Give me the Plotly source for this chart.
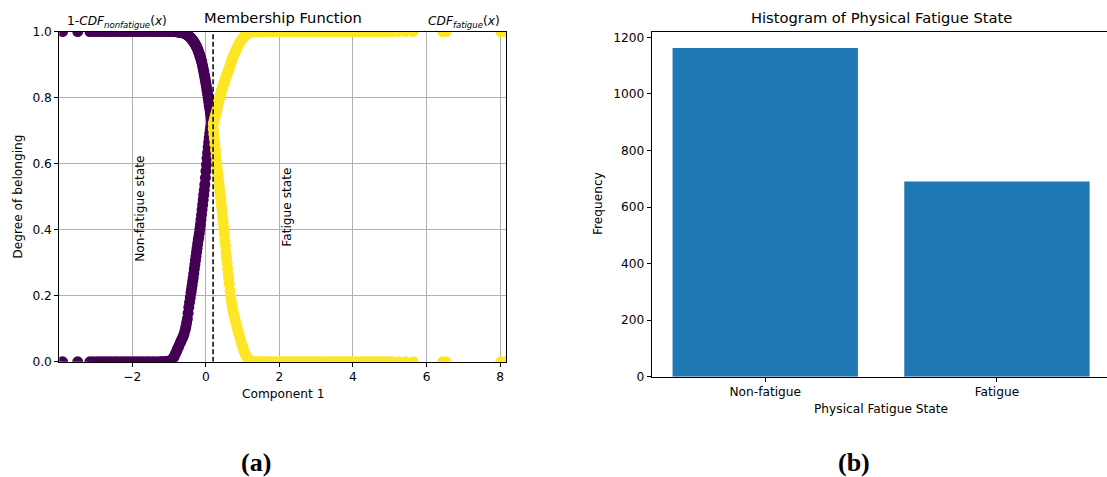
import plotly.graph_objects as go

# ---- Membership data: Component 1 score and the two membership degrees per sample ----
# Non-fatigue cluster (left of the threshold)
nonfatigue_x = [
    -3.89, -3.48, -3.15, -3.07, -2.98, -2.90, -2.81, -2.73, -2.64, -2.56, -2.47,
    -2.39, -2.30, -2.22, -2.13, -2.05, -1.96, -1.88, -1.79, -1.71, -1.62, -1.54,
    -1.45, -1.37, -1.28, -1.20, -1.11, -1.03, -0.97,
    -0.92, -0.89, -0.86, -0.83, -0.80, -0.77, -0.74, -0.71, -0.68, -0.65, -0.62,
    -0.59, -0.56, -0.54, -0.52, -0.50, -0.48, -0.46, -0.44, -0.42, -0.40, -0.385,
    -0.37, -0.355, -0.34, -0.325, -0.31, -0.295, -0.28, -0.265, -0.25, -0.235,
    -0.22, -0.205, -0.19, -0.175, -0.16, -0.145, -0.13, -0.115, -0.10, -0.085,
    -0.07, -0.055, -0.04, -0.025, -0.01, 0.005, 0.02, 0.035, 0.05, 0.065, 0.08,
    0.095, 0.11, 0.125, 0.14, 0.155, 0.17, 0.18,
]
nonfatigue_upper = [
    1.000, 1.000, 1.000, 1.000, 1.000, 1.000, 1.000, 1.000, 1.000, 1.000, 1.000,
    1.000, 1.000, 1.000, 1.000, 1.000, 1.000, 1.000, 1.000, 1.000, 1.000, 1.000,
    1.000, 1.000, 1.000, 1.000, 1.000, 1.000, 1.000,
    1.000, 1.000, 1.000, 1.000, 0.999, 0.999, 0.998, 0.998, 0.997, 0.997, 0.996,
    0.995, 0.993, 0.992, 0.991, 0.990, 0.988, 0.986, 0.984, 0.982, 0.980, 0.978,
    0.975, 0.973, 0.971, 0.968, 0.966, 0.963, 0.960, 0.957, 0.953, 0.950,
    0.946, 0.942, 0.937, 0.932, 0.927, 0.922, 0.916, 0.910, 0.903, 0.895,
    0.887, 0.879, 0.870, 0.861, 0.852, 0.842, 0.832, 0.821, 0.810, 0.799, 0.788,
    0.776, 0.765, 0.753, 0.742, 0.732, 0.722, 0.718,
]
nonfatigue_lower = [
    0.000, 0.000, 0.000, 0.000, 0.000, 0.000, 0.000, 0.000, 0.000, 0.000, 0.000,
    0.000, 0.000, 0.000, 0.000, 0.000, 0.000, 0.000, 0.000, 0.000, 0.000, 0.000,
    0.000, 0.000, 0.000, 0.001, 0.001, 0.002, 0.003,
    0.005, 0.010, 0.016, 0.023, 0.030, 0.038, 0.045, 0.053, 0.060, 0.068, 0.075,
    0.084, 0.096, 0.106, 0.118, 0.130, 0.147, 0.165, 0.180, 0.195, 0.210, 0.221,
    0.232, 0.244, 0.255, 0.268, 0.281, 0.294, 0.307, 0.319, 0.332, 0.344,
    0.357, 0.369, 0.378, 0.389, 0.402, 0.415, 0.430, 0.445, 0.460, 0.475,
    0.490, 0.505, 0.520, 0.537, 0.557, 0.577, 0.597, 0.616, 0.633, 0.650, 0.665,
    0.679, 0.692, 0.703, 0.711, 0.719, 0.725, 0.728,
]

# Fatigue cluster (right of the threshold)
fatigue_x = [
    0.205, 0.22, 0.235, 0.25, 0.265, 0.28, 0.295, 0.31, 0.325, 0.34, 0.355, 0.37,
    0.385, 0.40, 0.415, 0.43, 0.445, 0.46, 0.475, 0.49, 0.505, 0.52, 0.535, 0.55,
    0.565, 0.58, 0.595, 0.61, 0.625, 0.64, 0.66, 0.68, 0.70, 0.72, 0.74, 0.76,
    0.78, 0.80, 0.83, 0.86, 0.89, 0.92, 0.95, 0.98, 1.01, 1.04, 1.07, 1.10, 1.13,
    1.16, 1.20,
    1.27, 1.36, 1.45, 1.54, 1.63, 1.72, 1.81, 1.90, 1.99, 2.08, 2.17, 2.26, 2.35,
    2.44, 2.53, 2.62, 2.71, 2.80, 2.89, 2.98, 3.07, 3.16, 3.25, 3.34, 3.43, 3.52,
    3.61, 3.70, 3.79, 3.88, 3.97, 4.06, 4.15, 4.24, 4.33, 4.42, 4.51, 4.60, 4.69,
    4.78, 4.86, 4.95, 5.06, 5.24, 5.43, 5.64, 6.44, 6.53, 8.02, 8.15,
]
fatigue_upper = [
    0.720, 0.726, 0.733, 0.739, 0.746, 0.752, 0.758, 0.765, 0.775, 0.783, 0.790,
    0.796, 0.803, 0.809, 0.815, 0.821, 0.826, 0.832, 0.837, 0.842, 0.847, 0.852,
    0.857, 0.862, 0.866, 0.871, 0.875, 0.880, 0.885, 0.890, 0.897, 0.903, 0.910,
    0.916, 0.922, 0.928, 0.933, 0.938, 0.945, 0.952, 0.959, 0.965, 0.971, 0.976,
    0.980, 0.985, 0.988, 0.991, 0.993, 0.995, 0.997,
    0.998, 0.999, 0.999, 1.000, 1.000, 1.000, 1.000, 1.000, 1.000, 1.000, 1.000,
    1.000, 1.000, 1.000, 1.000, 1.000, 1.000, 1.000, 1.000, 1.000, 1.000, 1.000,
    1.000, 1.000, 1.000, 1.000, 1.000, 1.000, 1.000, 1.000, 1.000, 1.000, 1.000,
    1.000, 1.000, 1.000, 1.000, 1.000, 1.000, 1.000, 1.000, 1.000, 1.000, 1.000,
    1.000, 1.000, 1.000, 1.000, 1.000, 1.000,
]
fatigue_lower = [
    0.705, 0.690, 0.675, 0.659, 0.641, 0.623, 0.606, 0.590, 0.575, 0.560, 0.545,
    0.530, 0.515, 0.500, 0.485, 0.470, 0.455, 0.438, 0.421, 0.403, 0.386, 0.368,
    0.351, 0.333, 0.316, 0.298, 0.281, 0.265, 0.250, 0.235, 0.215, 0.197, 0.180,
    0.167, 0.155, 0.145, 0.135, 0.126, 0.114, 0.100, 0.089, 0.077, 0.065, 0.053,
    0.043, 0.033, 0.025, 0.018, 0.013, 0.009, 0.005,
    0.002, 0.001, 0.001, 0.000, 0.000, 0.000, 0.000, 0.000, 0.000, 0.000, 0.000,
    0.000, 0.000, 0.000, 0.000, 0.000, 0.000, 0.000, 0.000, 0.000, 0.000, 0.000,
    0.000, 0.000, 0.000, 0.000, 0.000, 0.000, 0.000, 0.000, 0.000, 0.000, 0.000,
    0.000, 0.000, 0.000, 0.000, 0.000, 0.000, 0.000, 0.000, 0.000, 0.000, 0.000,
    0.000, 0.000, 0.000, 0.000, 0.000, 0.000,
]

threshold = 0.2

x_ticks_a = [-2, 0, 2, 4, 6, 8]
y_ticks_a = [0.0, 0.2, 0.4, 0.6, 0.8, 1.0]

# ---- Histogram of the cluster sizes ----
states = ["Non-fatigue", "Fatigue"]
counts = [1162, 690]
y_ticks_b = [0, 200, 400, 600, 800, 1000, 1200]

PURPLE = "#440154"
YELLOW = "#fde725"
BAR = "#1f77b4"
GRID = "#b0b0b0"
FONT = "DejaVu Sans"

W, H = 1107, 477


def fx(p):
    return p / W


def fy(p):
    return 1 - p / H


fig = go.Figure()

fig.add_trace(go.Scatter(
    x=nonfatigue_x + nonfatigue_x,
    y=nonfatigue_upper + nonfatigue_lower,
    mode="markers",
    marker=dict(color=PURPLE, size=11, line=dict(width=0)),
    xaxis="x", yaxis="y", showlegend=False, hoverinfo="skip",
))
fig.add_trace(go.Scatter(
    x=fatigue_x + fatigue_x,
    y=fatigue_upper + fatigue_lower,
    mode="markers",
    marker=dict(color=YELLOW, size=11, line=dict(width=0)),
    xaxis="x", yaxis="y", showlegend=False, hoverinfo="skip",
))
fig.add_trace(go.Scatter(
    x=[threshold, threshold], y=[0, 1], mode="lines",
    line=dict(color="black", width=1.5, dash="5px,2.5px"),
    xaxis="x", yaxis="y", showlegend=False, hoverinfo="skip",
))

fig.add_trace(go.Bar(
    x=list(range(len(states))), y=counts, width=0.8,
    marker=dict(color=BAR, line=dict(width=0)),
    xaxis="x2", yaxis="y2", showlegend=False, hoverinfo="skip",
))

tick_font = dict(family=FONT, size=12.2, color="black")
axis_common = dict(
    showline=True, linecolor="black", linewidth=1,
    ticks="outside", ticklen=4, tickwidth=1, tickcolor="black",
    tickfont=tick_font, zeroline=False, automargin=False,
)

fig.update_layout(
    width=W, height=H,
    margin=dict(l=0, r=0, t=0, b=0, pad=0),
    paper_bgcolor="white", plot_bgcolor="white",
    font=dict(family=FONT, color="black"),
    xaxis=dict(
        domain=[fx(59.3), fx(506)], range=[-3.98, 8.16],
        tickvals=x_ticks_a, mirror=True, showgrid=True,
        gridcolor=GRID, gridwidth=1, anchor="y", **axis_common,
    ),
    yaxis=dict(
        domain=[fy(361.8), fy(31.5)], range=[0, 1],
        tickvals=y_ticks_a, tickformat=".1f", mirror=True, showgrid=True,
        gridcolor=GRID, gridwidth=1, anchor="x", **axis_common,
    ),
    xaxis2=dict(
        domain=[fx(651.7), 1.0], range=[-0.49, 1.475],
        tickvals=list(range(len(states))), ticktext=states,
        mirror=True, showgrid=False, anchor="y2", **axis_common,
    ),
    yaxis2=dict(
        domain=[fy(376.7), fy(31.7)], range=[0, 1220],
        tickvals=y_ticks_b, showgrid=False, anchor="x2", **axis_common,
    ),
)


def label(text, x, y, size=12.2, angle=0, xanchor="center", yanchor="middle",
          xref="paper", yref="paper", family=FONT):
    fig.add_annotation(
        text=text, x=x, y=y, xref=xref, yref=yref, showarrow=False,
        textangle=angle, xanchor=xanchor, yanchor=yanchor, borderpad=0,
        font=dict(family=family, size=size, color="black"),
    )


# Titles and axis labels
label("Membership Function", fx(282.6), fy(17.5), size=14.7)
label("1-<i>CDF</i><sub><i>nonfatigue</i></sub>(<i>x</i>)", fx(66), fy(22), xanchor="left")
label("<i>CDF</i><sub><i>fatigue</i></sub>(<i>x</i>)", fx(501), fy(22), xanchor="right")
label("Component 1", fx(282.6), fy(394))
label("Degree of belonging", fx(18), fy(196.7), angle=-90)
label("Non-fatigue state", -2, 0.3, angle=-90, xanchor="left", yanchor="bottom",
      xref="x", yref="y")
label("Fatigue state", 2, 0.345, angle=-90, xanchor="left", yanchor="bottom",
      xref="x", yref="y")

label("Histogram of Physical Fatigue State", fx(881), fy(17.5), size=14.7)
label("Frequency", fx(598), fy(204), angle=-90)
label("Physical Fatigue State", fx(881), fy(409))

# Panel tags
label("<b>(a)</b>", fx(256), fy(462), size=26, family="Liberation Serif")
label("<b>(b)</b>", fx(854), fy(462), size=26, family="Liberation Serif")

fig.write_html("out.html")
